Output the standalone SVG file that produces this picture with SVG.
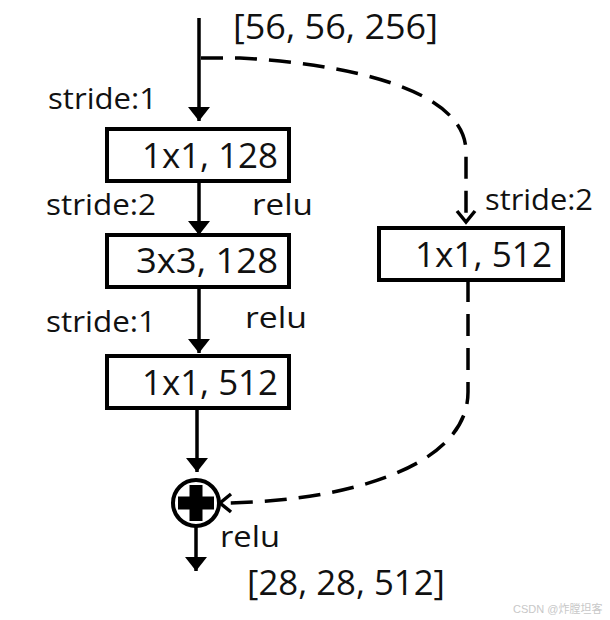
<svg xmlns="http://www.w3.org/2000/svg" width="610" height="620" viewBox="0 0 610 620">
<style>
.box{fill:#fff;stroke:#000;stroke-width:4}
.t{font-family:"Open Sans","Liberation Sans",sans-serif;fill:#111}
.big{font-size:34px;text-anchor:end}
.lab{font-size:29px}
.solid{fill:none;stroke:#000;stroke-width:3.5}
.dash{fill:none;stroke:#000;stroke-width:3.5;stroke-dasharray:22 12}
</style>
<defs>
<marker id="tri" markerUnits="userSpaceOnUse" markerWidth="26" markerHeight="26" refX="14" refY="12" orient="auto">
<path d="M0,1 L14,12 L0,23 Z" fill="#000"/>
</marker>
<marker id="vee" markerUnits="userSpaceOnUse" markerWidth="26" markerHeight="26" refX="13" refY="12" orient="auto">
<path d="M2,3 L13,12 L2,21" fill="none" stroke="#000" stroke-width="3.5"/>
</marker>
</defs>
<rect width="610" height="620" fill="#fff"/>
<g id="connectors">
<path class="solid" d="M199,18 V121" marker-end="url(#tri)"/>
<path class="solid" d="M199,181 V235" marker-end="url(#tri)"/>
<path class="solid" d="M199,287 V353" marker-end="url(#tri)"/>
<path class="solid" d="M197,408 V472" marker-end="url(#tri)"/>
<path class="solid" d="M196,527 V571" marker-end="url(#tri)"/>
<path class="dash" d="M201,58 H240 C350,64 466,90 466,152 V222" marker-end="url(#vee)"/>
<path class="dash" d="M468,280 V392 C468,472 330,503 220,503" marker-end="url(#vee)"/>
</g>
<g id="input">
<text class="t" x="233" y="39" font-size="35" textLength="205" lengthAdjust="spacingAndGlyphs">[56, 56, 256]</text>
</g>
<g id="conv1">
<rect class="box" x="107" y="129" width="182" height="52"/>
<text class="t big" x="278" y="168" textLength="136" lengthAdjust="spacingAndGlyphs">1x1, 128</text>
</g>
<g id="conv2">
<rect class="box" x="107" y="235" width="182" height="52"/>
<text class="t big" x="278" y="273" textLength="142" lengthAdjust="spacingAndGlyphs">3x3, 128</text>
</g>
<g id="conv3">
<rect class="box" x="107" y="356" width="182" height="52"/>
<text class="t big" x="278" y="395" textLength="136" lengthAdjust="spacingAndGlyphs">1x1, 512</text>
</g>
<g id="shortcut">
<rect class="box" x="379" y="228" width="184" height="52"/>
<text class="t big" x="552" y="267" textLength="137" lengthAdjust="spacingAndGlyphs">1x1, 512</text>
</g>
<g id="add">
<circle cx="196" cy="503" r="23" fill="#fff" stroke="#000" stroke-width="4"/>
<path d="M189.5,485 H202.5 V496.5 H214 V509.5 H202.5 V521 H189.5 V509.5 H178 V496.5 H189.5 Z" fill="#000"/>
</g>
<g id="labels">
<text class="t lab" x="48" y="109" textLength="109" lengthAdjust="spacingAndGlyphs">stride:1</text>
<text class="t lab" x="46" y="215" textLength="110" lengthAdjust="spacingAndGlyphs">stride:2</text>
<text class="t lab" x="252" y="215" textLength="61" lengthAdjust="spacingAndGlyphs">relu</text>
<text class="t lab" x="46" y="332" textLength="110" lengthAdjust="spacingAndGlyphs">stride:1</text>
<text class="t lab" x="245" y="328" textLength="62" lengthAdjust="spacingAndGlyphs">relu</text>
<text class="t lab" x="485" y="210" textLength="108" lengthAdjust="spacingAndGlyphs">stride:2</text>
<text class="t lab" x="220" y="547" textLength="60" lengthAdjust="spacingAndGlyphs">relu</text>
</g>
<g id="output">
<text class="t" x="247" y="595" font-size="35" textLength="198" lengthAdjust="spacingAndGlyphs">[28, 28, 512]</text>
</g>
<text x="513" y="613" font-family="'Liberation Sans','Noto Sans CJK SC',sans-serif" font-size="11" fill="#c8c8c8">CSDN @炸膛坦客</text>
</svg>
